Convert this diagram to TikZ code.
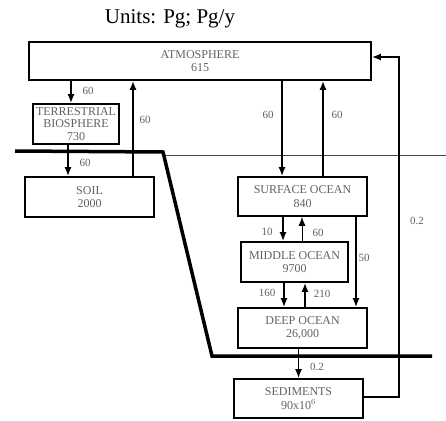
\documentclass[tikz,border=0pt]{standalone}
\usepackage{fontspec}
\setmainfont{Liberation Serif}
\usetikzlibrary{arrows.meta,calc}
\definecolor{inkgray}{gray}{0.38}
\tikzset{
    block/.style = {draw, rectangle, line width=1.8pt, text=inkgray,
        inner sep=2pt, font=\fontsize{12}{13.5}\selectfont, align=center},
    arrow/.style = {draw, line width=1.5pt, -{Latex[length=9pt,width=7pt]}},
    thinarrow/.style = {draw, line width=0.9pt, -{Latex[length=9pt,width=7pt]}},
    num/.style = {text=inkgray, font=\fontsize{11}{12}\selectfont},
    shore/.style = {line width=3.5pt},
    sea/.style = {line width=0.9pt, black!70}
}

\begin{document}
\begin{tikzpicture}[x=1pt, y=-1pt]
    \useasboundingbox (0,0) rectangle (446,420);
    \node [font=\fontsize{21}{24}\selectfont] (units) at (170,19) {Units: Pg; Pg/y};

    \draw [sea] (163,155) -- (446,155);
    \draw [shore] (15,151) -- (163,152) -- (212,356) -- (432,356);

    \node [block, minimum width=342pt, minimum height=38pt] (atm) at (200,61) {ATMOSPHERE\\615};
    \node [block, minimum width=86pt, minimum height=40pt, inner sep=0pt,
        font=\fontsize{12}{12.5}\selectfont] (terr) at (76,124) {TERRESTRIAL\\BIOSPHERE\\730};
    \node [block, minimum width=129pt, minimum height=40pt] (soil) at (89.5,197) {SOIL\\2000};
    \node [block, minimum width=129pt, minimum height=39pt] (surf) at (302.5,196.5) {SURFACE OCEAN\\840};
    \node [block, minimum width=107pt, minimum height=40pt] (mid) at (294.5,262) {MIDDLE OCEAN\\9700};
    \node [block, minimum width=129pt, minimum height=40pt] (deep) at (302.5,328) {DEEP OCEAN\\26,000};
    \node [block, minimum width=129pt, minimum height=39pt] (sed) at (298.5,398.5) {SEDIMENTS\\90x10$^6$};
    \coordinate (ret) at (399,57);

    \draw [arrow] ([xshift=-5pt]terr.north |- atm.south) -- ([xshift=-5pt]terr.north);
    \draw [arrow] ([xshift=-8pt]terr.south) -- ([xshift=-8pt]terr.south |- soil.north);
    \draw [arrow] ([xshift=43.5pt]soil.north) -- ([xshift=43.5pt]soil.north |- atm.south);
    \draw [arrow] ([xshift=-20.5pt]surf.north |- atm.south) -- ([xshift=-20.5pt]surf.north);
    \draw [arrow] ([xshift=20.5pt]surf.north) -- ([xshift=20.5pt]surf.north |- atm.south);
    \draw [arrow] ([xshift=-11.5pt]mid.north |- surf.south) -- ([xshift=-11.5pt]mid.north);
    \draw [thinarrow] ([xshift=7.5pt]mid.north) -- ([xshift=7.5pt]mid.north |- surf.south);
    \draw [arrow] ([xshift=53.5pt]surf.south) -- ([xshift=53.5pt]surf.south |- deep.north);
    \draw [arrow] ([xshift=-18.5pt]deep.north |- mid.south) -- ([xshift=-18.5pt]deep.north);
    \draw [arrow] ([xshift=2.5pt]deep.north) -- ([xshift=2.5pt]deep.north |- mid.south);
    \draw [arrow] (deep.south -| sed.north) -- (sed.north);
    \draw [arrow] ([yshift=1.5pt]sed.east) -| (ret) -- ([yshift=4pt]atm.east);

    \node [num] (f1) at (88,91) {60};
    \node [num] (f2) at (145,120) {60};
    \node [num] (f3) at (85,163) {60};
    \node [num] (f4) at (268,115) {60};
    \node [num] (f5) at (337,115) {60};
    \node [num] (f6) at (267,232) {10};
    \node [num] (f7) at (318,233) {60};
    \node [num] (f8) at (364,258) {50};
    \node [num] (f9) at (417,221) {0.2};
    \node [num] (f10) at (267,293) {160};
    \node [num] (f11) at (322,294) {210};
    \node [num] (f12) at (317,367) {0.2};
\end{tikzpicture}
\end{document}
